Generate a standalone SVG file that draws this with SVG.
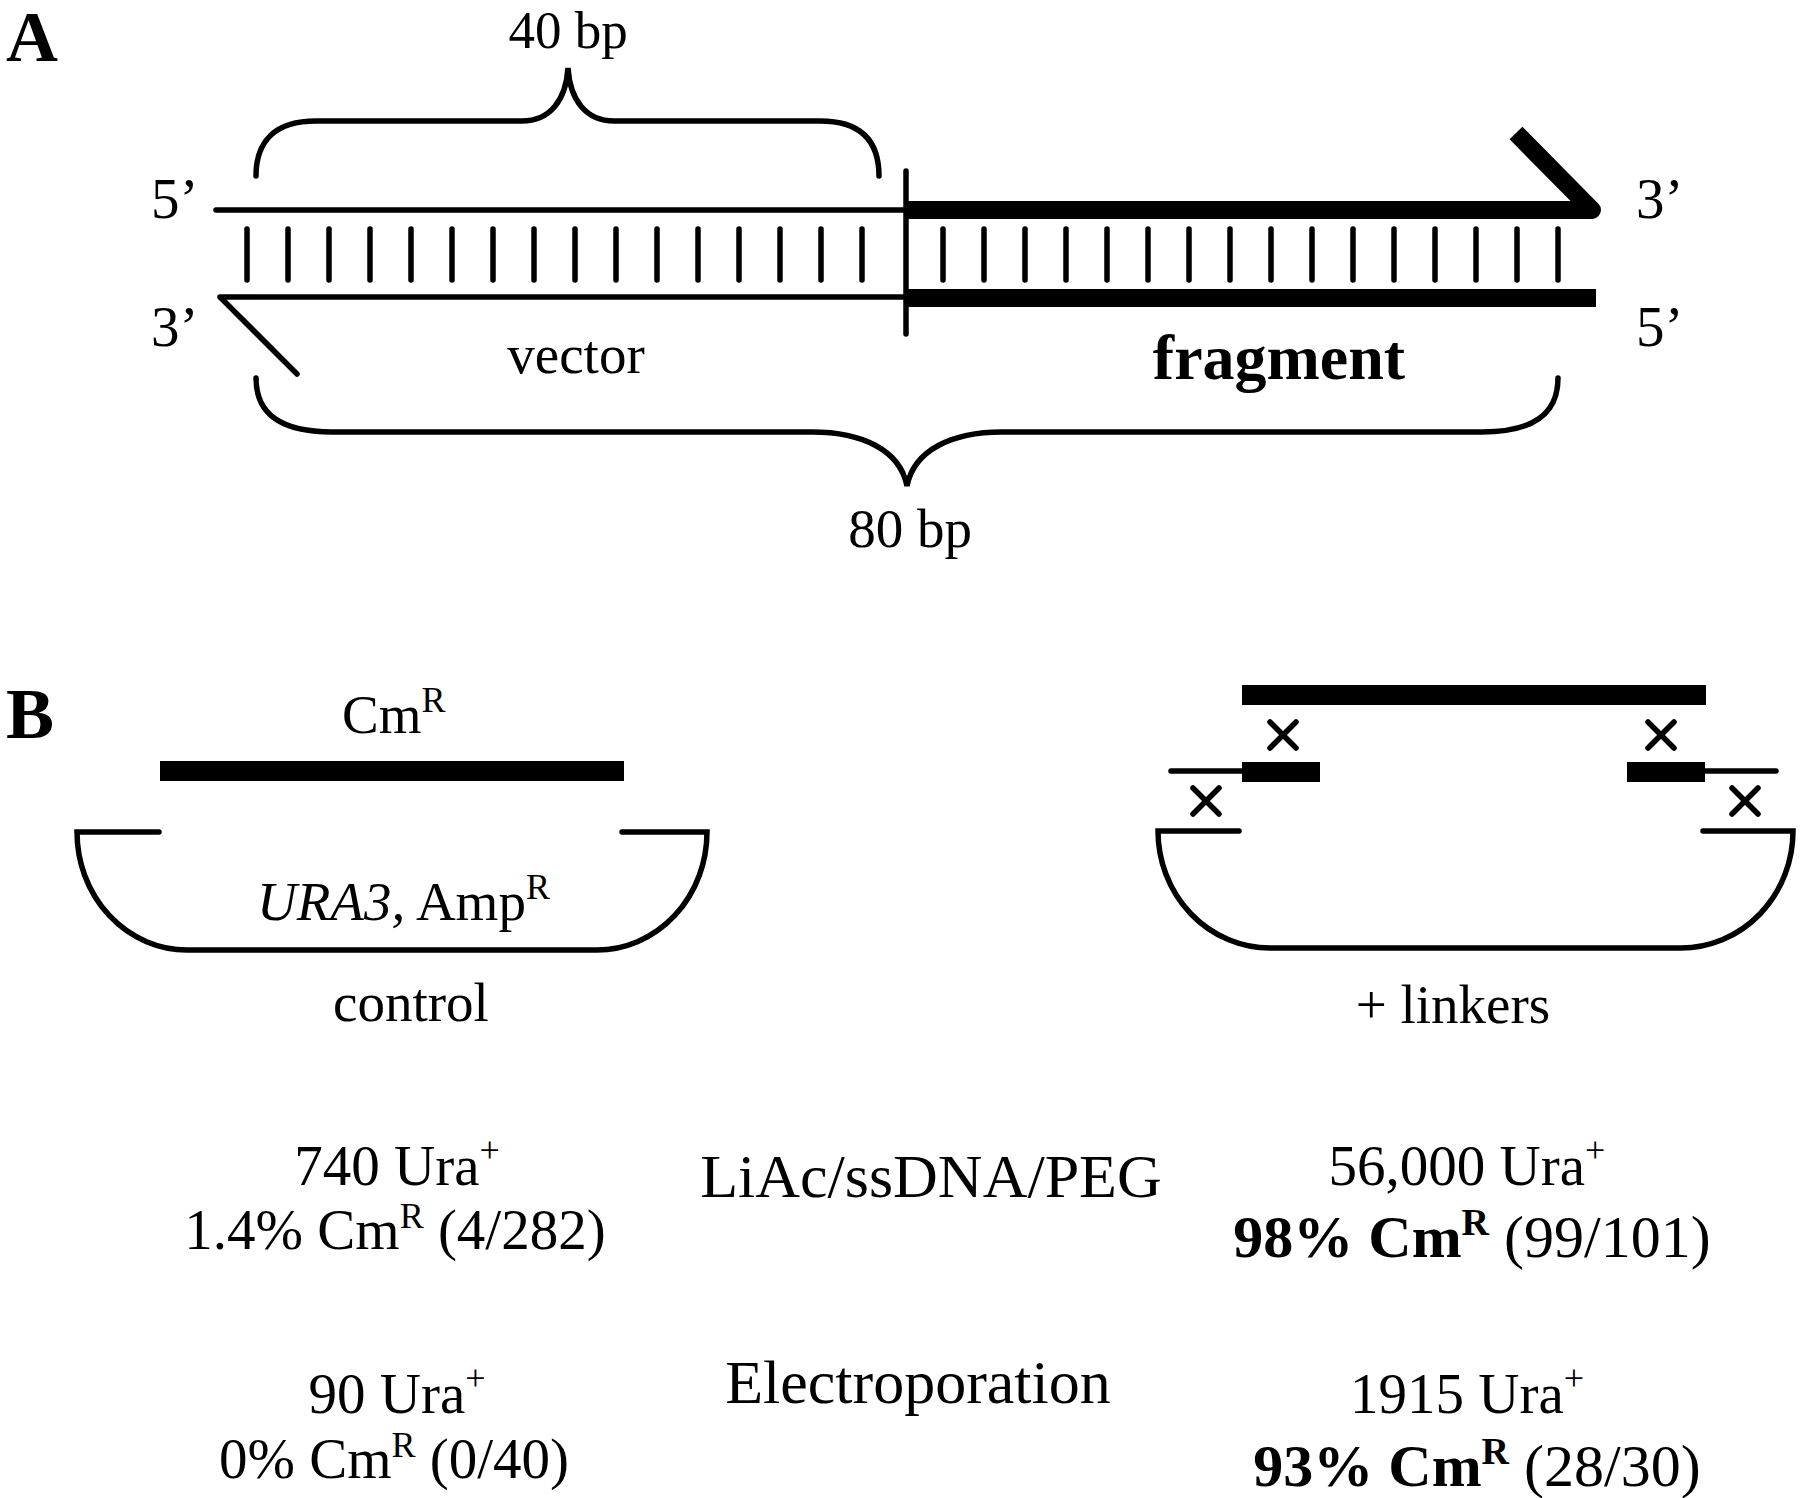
<svg xmlns="http://www.w3.org/2000/svg" width="1800" height="1498" viewBox="0 0 1800 1498">
<style>
  text { font-family: "Liberation Serif", "Times New Roman", serif; fill: #000; }
  .lbl { font-size: 55px; }
  .end { font-size: 57px; }
  .mid { text-anchor: middle; }
  .panel { font-size: 72px; font-weight: bold; }
  .val { font-size: 57px; text-anchor: middle; }
  .valb { font-size: 60px; text-anchor: middle; }
  .big { font-size: 62px; text-anchor: middle; }
  .b { font-weight: bold; }
  .thin { stroke: #000; stroke-width: 5.5; fill: none; stroke-linecap: round; }
  .tick { stroke: #000; stroke-width: 5.5; stroke-linecap: round; }
  .thick { stroke: #000; stroke-width: 18; fill: none; stroke-linecap: butt; stroke-linejoin: round; }
  .bar { fill: #000; }
  .cross { stroke: #000; stroke-width: 5.5; stroke-linecap: round; }
</style>
<rect width="1800" height="1498" fill="#fff"/>

<!-- Panel A -->
<text class="panel" x="6" y="61">A</text>

<g id="brace40">
  <path class="thin" d="M256,176 C256,140 276,121 316,121 L522,121 C550,121 566,100 568,68 C570,100 586,121 614,121 L820,121 C860,121 879,140 879,176"/>
  <text class="mid" x="568" y="48" font-size="53">40 bp</text>
</g>

<g id="vector">
  <line class="thin" x1="216" y1="210" x2="906" y2="210"/>
  <line class="thin" x1="220" y1="297" x2="906" y2="297"/>
  <line class="thin" x1="221" y1="298" x2="297" y2="374"/>
  <g class="tick">
    <line x1="247" y1="229" x2="247" y2="280"/>
    <line x1="288" y1="229" x2="288" y2="280"/>
    <line x1="329" y1="229" x2="329" y2="280"/>
    <line x1="370" y1="229" x2="370" y2="280"/>
    <line x1="411" y1="229" x2="411" y2="280"/>
    <line x1="452" y1="229" x2="452" y2="280"/>
    <line x1="493" y1="229" x2="493" y2="280"/>
    <line x1="534" y1="229" x2="534" y2="280"/>
    <line x1="575" y1="229" x2="575" y2="280"/>
    <line x1="616" y1="229" x2="616" y2="280"/>
    <line x1="657" y1="229" x2="657" y2="280"/>
    <line x1="698" y1="229" x2="698" y2="280"/>
    <line x1="739" y1="229" x2="739" y2="280"/>
    <line x1="780" y1="229" x2="780" y2="280"/>
    <line x1="821" y1="229" x2="821" y2="280"/>
    <line x1="862" y1="229" x2="862" y2="280"/>
  </g>
  <text class="end" x="151" y="218">5’</text>
  <text class="end" x="151" y="346">3’</text>
  <text class="lbl mid" x="576" y="373">vector</text>
</g>

<g id="junction">
  <line class="thin" x1="906" y1="171" x2="906" y2="334"/>
</g>

<g id="fragment">
  <path class="thick" d="M906,210 L1592,210 L1516,133"/>
  <line class="thick" x1="906" y1="298" x2="1596" y2="298"/>
  <g class="tick">
    <line x1="943" y1="229" x2="943" y2="280"/>
    <line x1="984" y1="229" x2="984" y2="280"/>
    <line x1="1025" y1="229" x2="1025" y2="280"/>
    <line x1="1066" y1="229" x2="1066" y2="280"/>
    <line x1="1107" y1="229" x2="1107" y2="280"/>
    <line x1="1148" y1="229" x2="1148" y2="280"/>
    <line x1="1189" y1="229" x2="1189" y2="280"/>
    <line x1="1230" y1="229" x2="1230" y2="280"/>
    <line x1="1271" y1="229" x2="1271" y2="280"/>
    <line x1="1312" y1="229" x2="1312" y2="280"/>
    <line x1="1353" y1="229" x2="1353" y2="280"/>
    <line x1="1394" y1="229" x2="1394" y2="280"/>
    <line x1="1435" y1="229" x2="1435" y2="280"/>
    <line x1="1476" y1="229" x2="1476" y2="280"/>
    <line x1="1517" y1="229" x2="1517" y2="280"/>
    <line x1="1558" y1="229" x2="1558" y2="280"/>
  </g>
  <text class="end" x="1636" y="218">3’</text>
  <text class="end" x="1636" y="346">5’</text>
  <text class="mid b" x="1279" y="379" font-size="64">fragment</text>
</g>

<g id="brace80">
  <path class="thin" d="M256,378 C256,415 282,432 332,432 L812,432 C862,432 900,450 907,486 C914,450 952,432 1002,432 L1482,432 C1532,432 1558,415 1558,378"/>
  <text class="lbl mid" x="910" y="547">80 bp</text>
</g>

<!-- Panel B -->
<text class="panel" x="6" y="738">B</text>

<g id="control">
  <text class="lbl" x="342" y="733" font-size="54">Cm<tspan font-size="36" dy="-21">R</tspan></text>
  <rect class="bar" x="160" y="761" width="464" height="20"/>
  <path class="thin" d="M159,832 H77 A110,118 0 0 0 187,950 H597 A110,118 0 0 0 707,832 H622"/>
  <text class="lbl" x="257" y="920"><tspan font-style="italic">URA3,</tspan> Amp<tspan font-size="36" dy="-21">R</tspan></text>
  <text class="lbl mid" x="411" y="1021" font-size="56">control</text>
</g>

<g id="linkers">
  <rect class="bar" x="1242" y="685" width="464" height="20"/>
  <line class="cross" x1="1270" y1="722" x2="1296" y2="748"/>
  <line class="cross" x1="1296" y1="722" x2="1270" y2="748"/>
  <line class="cross" x1="1648" y1="722" x2="1674" y2="748"/>
  <line class="cross" x1="1674" y1="722" x2="1648" y2="748"/>
  <line class="thin" x1="1171" y1="771" x2="1242" y2="771"/>
  <rect class="bar" x="1242" y="762" width="78" height="20"/>
  <rect class="bar" x="1627" y="762" width="78" height="20"/>
  <line class="thin" x1="1705" y1="771" x2="1776" y2="771"/>
  <line class="cross" x1="1193" y1="788" x2="1219" y2="814"/>
  <line class="cross" x1="1219" y1="788" x2="1193" y2="814"/>
  <line class="cross" x1="1732" y1="788" x2="1758" y2="814"/>
  <line class="cross" x1="1758" y1="788" x2="1732" y2="814"/>
  <path class="thin" d="M1239,831 H1158 A112,117 0 0 0 1270,948 H1681 A112,117 0 0 0 1793,831 H1703"/>
  <text class="lbl mid" x="1453" y="1023" font-size="56">+ linkers</text>
</g>

<g id="results">
  <text class="val" x="397" y="1185">740 Ura<tspan font-size="36" dy="-23">+</tspan></text>
  <text class="val" x="395" y="1249">1.4% Cm<tspan font-size="36" dy="-21">R</tspan><tspan dy="21"> (4/282)</tspan></text>
  <text class="big" x="931" y="1197">LiAc/ssDNA/PEG</text>
  <text class="val" x="1467" y="1185">56,000 Ura<tspan font-size="36" dy="-23">+</tspan></text>
  <text class="valb" x="1472" y="1257"><tspan font-weight="bold">98% Cm</tspan><tspan font-weight="bold" font-size="38" dy="-22">R</tspan><tspan dy="22"> (99/101)</tspan></text>

  <text class="val" x="397" y="1413">90 Ura<tspan font-size="36" dy="-23">+</tspan></text>
  <text class="val" x="394" y="1478">0% Cm<tspan font-size="36" dy="-21">R</tspan><tspan dy="21"> (0/40)</tspan></text>
  <text class="big" x="918" y="1403">Electroporation</text>
  <text class="val" x="1467" y="1413">1915 Ura<tspan font-size="36" dy="-23">+</tspan></text>
  <text class="valb" x="1477" y="1486"><tspan font-weight="bold">93% Cm</tspan><tspan font-weight="bold" font-size="38" dy="-22">R</tspan><tspan dy="22"> (28/30)</tspan></text>
</g>
</svg>
